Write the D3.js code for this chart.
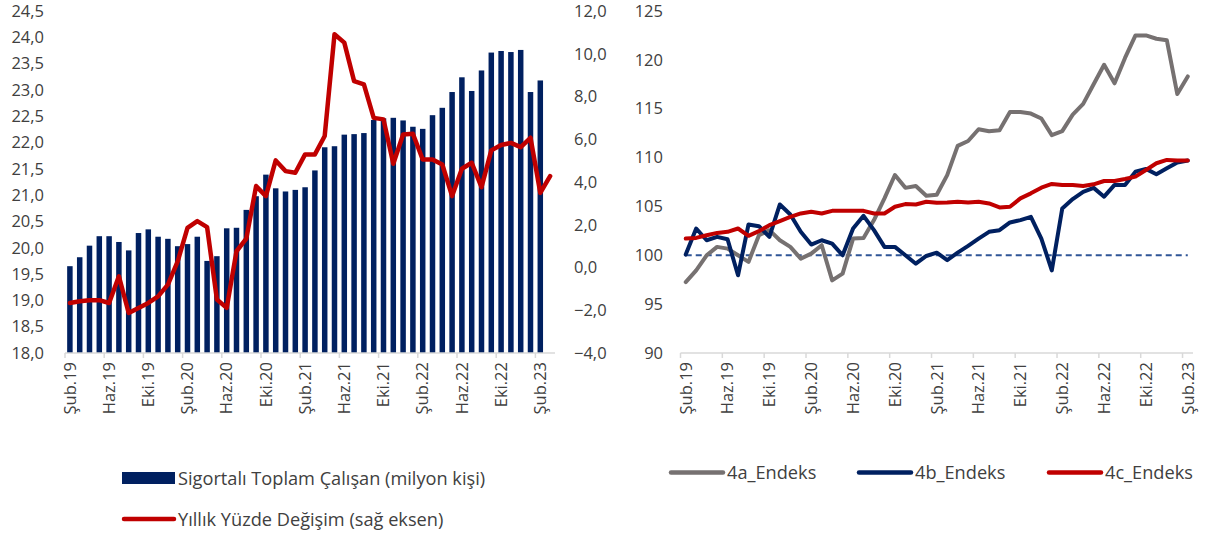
<!DOCTYPE html>
<html>
<head>
<meta charset="utf-8">
<script src="https://cdn.jsdelivr.net/npm/d3@7"></script>
<style>
  body { margin: 0; background: #fff; }
  svg { display: block; font-family: "Open Sans", "Noto Sans", sans-serif; }
</style>
</head>
<body>
<script>
// left panel: insured employees (bars) and yearly change (line, right axis)
var months = ['Şub.19','Mar.19','Nis.19','May.19','Haz.19','Tem.19','Ağu.19','Eyl.19','Eki.19','Kas.19','Ara.19','Oca.20',
  'Şub.20','Mar.20','Nis.20','May.20','Haz.20','Tem.20','Ağu.20','Eyl.20','Eki.20','Kas.20','Ara.20','Oca.21',
  'Şub.21','Mar.21','Nis.21','May.21','Haz.21','Tem.21','Ağu.21','Eyl.21','Eki.21','Kas.21','Ara.21','Oca.22',
  'Şub.22','Mar.22','Nis.22','May.22','Haz.22','Tem.22','Ağu.22','Eyl.22','Eki.22','Kas.22','Ara.22','Oca.23',
  'Şub.23','Mar.23'];

var employees = [19.65, 19.82, 20.04, 20.22, 20.22, 20.11, 19.95, 20.28, 20.35, 20.21,
  20.17, 20.03, 20.07, 20.21, 19.75, 19.84, 20.37, 20.38, 20.72, 20.98,
  21.39, 21.13, 21.07, 21.10, 21.15, 21.47, 21.91, 21.93, 22.15, 22.16,
  22.18, 22.43, 22.46, 22.47, 22.42, 22.30, 22.26, 22.52, 22.66, 22.96,
  23.24, 22.98, 23.37, 23.71, 23.74, 23.72, 23.76, 22.96, 23.18];

var yearlyChange = [-1.66, -1.58, -1.53, -1.53, -1.66, -0.41, -2.13, -1.89, -1.66, -1.35,
  -0.80, 0.29, 1.85, 2.17, 1.89, -1.50, -1.89, 0.76, 1.35, 3.81,
  3.34, 5.01, 4.51, 4.43, 5.29, 5.29, 6.15, 10.91, 10.52, 8.72,
  8.57, 7.00, 6.93, 4.85, 6.22, 6.26, 5.05, 5.05, 4.82, 3.34,
  4.62, 4.90, 3.76, 5.48, 5.73, 5.83, 5.63, 6.07, 3.49, 4.27];

var leftTicks = [18, 18.5, 19, 19.5, 20, 20.5, 21, 21.5, 22, 22.5, 23, 23.5, 24, 24.5];
var rightTicks = [-4, -2, 0, 2, 4, 6, 8, 10, 12];

// right panel: indices
var index4a = [97.26, 98.46, 100.0, 100.86, 100.68, 100.0, 99.32, 102.05, 102.57, 101.54,
  100.86, 99.66, 100.17, 101.03, 97.43, 98.12, 101.71, 101.78, 103.6, 105.82,
  108.22, 106.9, 107.09, 106.1, 106.2, 108.2, 111.2, 111.7, 112.9, 112.7,
  112.8, 114.66, 114.66, 114.5, 114.0, 112.3, 112.7, 114.4, 115.5, 117.5,
  119.5, 117.6, 120.2, 122.5, 122.5, 122.16, 122.0, 116.5, 118.3];
var index4b = [100.07, 102.74, 101.54, 101.88, 101.64, 97.95, 103.15, 102.98, 101.88, 105.2,
  104.18, 102.4, 101.1, 101.54, 101.2, 100.0, 102.74, 104.04, 102.57, 100.86,
  100.86, 100.0, 99.14, 99.93, 100.27, 99.5, 100.27, 100.96, 101.7, 102.4,
  102.57, 103.36, 103.6, 103.94, 101.71, 98.46, 104.8, 105.75, 106.5, 106.9,
  106.0, 107.2, 107.2, 108.56, 108.84, 108.3, 108.9, 109.5, 109.7];
var index4c = [101.71, 101.78, 102.05, 102.29, 102.4, 102.74, 101.99, 102.47, 103.08, 103.5,
  103.94, 104.28, 104.45, 104.28, 104.55, 104.55, 104.55, 104.55, 104.28, 104.28,
  104.97, 105.24, 105.2, 105.48, 105.38, 105.41, 105.48, 105.41, 105.48, 105.3,
  104.9, 104.97, 105.82, 106.34, 106.92, 107.3, 107.2, 107.2, 107.1, 107.26,
  107.6, 107.6, 107.8, 108.05, 108.73, 109.42, 109.76, 109.7, 109.7];
var baseLevel = 100;
var indexTicks = [90, 95, 100, 105, 110, 115, 120, 125];

var seriesNames = ['Sigortalı Toplam Çalışan (milyon kişi)', 'Yıllık Yüzde Değişim (sağ eksen)'];
var indexNames = ['4a_Endeks', '4b_Endeks', '4c_Endeks'];

var navy = '#002060', red = '#c00000', grey = '#767171', axisGrey = '#d9d9d9', txt = '#404040';
var fmt = function(v) { return d3.format('.1f')(v).replace('.', ','); };
var fs = '16.5px', legFs = '18.2px';

var svg = d3.select('body').append('svg')
  .attr('width', 1209)
  .attr('height', 537);

// ---------- left chart ----------
var plotTop = 11, plotBottom = 353;
var x1 = d3.scaleBand()
  .domain(d3.range(months.length))
  .range([65, 555])
  .paddingInner(0.44)
  .paddingOuter(0.22);
var step1 = x1.step();
var cx1 = i => x1(i) + x1.bandwidth() / 2;
var yL = d3.scaleLinear().domain([18, 24.5]).range([plotBottom, plotTop]);
var yR = d3.scaleLinear().domain([-4, 12]).range([plotBottom, plotTop]);

var left = svg.append('g');

left.append('g')
  .selectAll('rect')
  .data(employees)
  .enter()
    .append('rect')
    .attr('x', (d, i) => x1(i))
    .attr('y', d => yL(d))
    .attr('width', x1.bandwidth())
    .attr('height', d => plotBottom - yL(d))
    .style('fill', navy);

left.append('line')
  .attr('x1', 65).attr('x2', 555)
  .attr('y1', plotBottom).attr('y2', plotBottom)
  .attr('stroke', axisGrey).attr('stroke-width', 1.5);

var tickIdx1 = d3.range(0, months.length - 1, 4);
left.append('g').selectAll('line')
  .data(tickIdx1)
  .enter().append('line')
    .attr('x1', i => cx1(i) - step1 / 2).attr('x2', i => cx1(i) - step1 / 2)
    .attr('y1', plotBottom).attr('y2', plotBottom + 5)
    .attr('stroke', axisGrey).attr('stroke-width', 1.5);

left.append('g').selectAll('text')
  .data(tickIdx1)
  .enter().append('text')
    .attr('transform', i => `translate(${cx1(i)},362) rotate(-90)`)
    .attr('dy', '0.35em')
    .style('text-anchor', 'end')
    .attr('font-size', fs)
    .attr('fill', txt)
    .text(i => months[i]);

var yAxisL = d3.axisLeft(yL).tickValues(leftTicks).tickFormat(fmt).tickSize(0).tickPadding(0);
left.append('g')
  .attr('transform', 'translate(44,0)')
  .call(yAxisL)
  .call(g => g.select('.domain').remove())
  .call(g => g.selectAll('text').attr('font-size', fs).attr('fill', txt))
  .attr('font-family', null);

var yAxisR = d3.axisRight(yR).tickValues(rightTicks).tickFormat(fmt).tickSize(0).tickPadding(0);
left.append('g')
  .attr('transform', 'translate(574,0)')
  .call(yAxisR)
  .call(g => g.select('.domain').remove())
  .call(g => g.selectAll('text').attr('font-size', fs).attr('fill', txt))
  .attr('font-family', null);

var changeLine = d3.line()
  .x((d, i) => cx1(i))
  .y(d => yR(d));
left.append('path')
  .datum(yearlyChange)
  .attr('d', changeLine)
  .attr('fill', 'none')
  .attr('stroke', red)
  .attr('stroke-width', 4.5)
  .attr('stroke-linejoin', 'round')
  .attr('stroke-linecap', 'round');

// legend
left.append('rect')
  .attr('x', 122).attr('y', 472).attr('width', 53).attr('height', 12)
  .style('fill', navy);
left.append('text')
  .attr('x', 178).attr('y', 484.5)
  .attr('font-size', legFs).attr('fill', txt)
  .text(seriesNames[0]);
left.append('line')
  .attr('x1', 124).attr('x2', 174).attr('y1', 519).attr('y2', 519)
  .attr('stroke', red).attr('stroke-width', 4.5).attr('stroke-linecap', 'round');
left.append('text')
  .attr('x', 178).attr('y', 525.5)
  .attr('font-size', legFs).attr('fill', txt)
  .text(seriesNames[1]);

// ---------- right chart ----------
var x2 = d3.scaleBand()
  .domain(d3.range(index4a.length))
  .range([680.5, 1193]);
var step2 = x2.step();
var cx2 = i => x2(i) + step2 / 2;
var y2 = d3.scaleLinear().domain([90, 125]).range([plotBottom, plotTop]);

var right = svg.append('g');

right.append('line')
  .attr('x1', 680.5).attr('x2', 1193)
  .attr('y1', plotBottom).attr('y2', plotBottom)
  .attr('stroke', axisGrey).attr('stroke-width', 1.5);

var tickIdx2 = d3.range(0, index4a.length, 4);
right.append('g').selectAll('line')
  .data(tickIdx2)
  .enter().append('line')
    .attr('x1', i => x2(i)).attr('x2', i => x2(i))
    .attr('y1', plotBottom).attr('y2', plotBottom + 5)
    .attr('stroke', axisGrey).attr('stroke-width', 1.5);

right.append('g').selectAll('text')
  .data(tickIdx2)
  .enter().append('text')
    .attr('transform', i => `translate(${cx2(i)},362) rotate(-90)`)
    .attr('dy', '0.35em')
    .style('text-anchor', 'end')
    .attr('font-size', fs)
    .attr('fill', txt)
    .text(i => months[i]);

right.append('g')
  .attr('transform', 'translate(663,0)')
  .call(d3.axisLeft(y2).tickValues(indexTicks).tickSize(0).tickPadding(0))
  .call(g => g.select('.domain').remove())
  .call(g => g.selectAll('text').attr('font-size', fs).attr('fill', txt))
  .attr('font-family', null);

// reference line at 100
right.append('line')
  .attr('x1', cx2(0)).attr('x2', cx2(index4a.length - 1))
  .attr('y1', y2(baseLevel)).attr('y2', y2(baseLevel))
  .attr('stroke', '#2f5597').attr('stroke-width', 2)
  .attr('stroke-dasharray', '6,4');

var idxLine = d3.line()
  .x((d, i) => cx2(i))
  .y(d => y2(d));
var idxSeries = [index4a, index4b, index4c];
var idxColors = [grey, navy, red];
idxSeries.forEach(function(s, k) {
  right.append('path')
    .datum(s)
    .attr('d', idxLine)
    .attr('fill', 'none')
    .attr('stroke', idxColors[k])
    .attr('stroke-width', 4)
    .attr('stroke-linejoin', 'round')
    .attr('stroke-linecap', 'round');
});

// legend
var legX = [671, 859, 1049];
indexNames.forEach(function(n, k) {
  right.append('line')
    .attr('x1', legX[k]).attr('x2', legX[k] + 52)
    .attr('y1', 472.5).attr('y2', 472.5)
    .attr('stroke', idxColors[k]).attr('stroke-width', 4.5)
    .attr('stroke-linecap', 'round');
  right.append('text')
    .attr('x', legX[k] + 56).attr('y', 479)
    .attr('font-size', legFs).attr('fill', txt)
    .text(n);
});
</script>
</body>
</html>
